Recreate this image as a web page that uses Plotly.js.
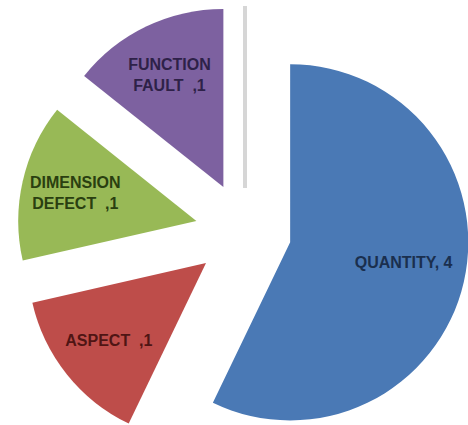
<!DOCTYPE html>
<html>
<head>
<meta charset="utf-8">
<script src="https://cdn.plot.ly/plotly-3.0.1.min.js"></script>
<style>
  html, body { margin: 0; padding: 0; background: #ffffff; overflow: hidden; width: 468px; height: 425px; }
  #chart { position: absolute; left: 0; top: 0; width: 480px; height: 470px; }
</style>
</head>
<body>
<div id="chart"></div>
<script>
// Data
var categories = ["QUANTITY", "ASPECT", "DIMENSION<br>DEFECT", "FUNCTION<br>FAULT"];
var values = [4, 1, 1, 1];
var labelTemplates = [
  "\u00a0\u00a0\u00a0\u00a0\u00a0\u00a0\u00a0\u00a0\u00a0\u00a0\u00a0\u00a0%{label}, %{value}",
  "%{label}\u00a0\u00a0,%{value}",
  "%{label}\u00a0\u00a0,%{value}",
  "%{label}\u00a0\u00a0,%{value}"
];

var sliceColors = ["#4a79b5", "#be4d4a", "#98b956", "#7d61a0"];
var textColors = ["#1a2f4e", "#4f1514", "#2a3f10", "#2e2148"];
var pulls = [0.26, 0.28, 0.28, 0.28];

var trace = {
  type: "pie",
  labels: categories,
  values: values,
  sort: false,
  direction: "clockwise",
  rotation: 0,
  pull: pulls,
  marker: { colors: sliceColors, line: { width: 0 } },
  texttemplate: labelTemplates,
  textposition: "inside",
  insidetextorientation: "horizontal",
  textfont: { family: "Liberation Sans, Arial, sans-serif", size: 16, weight: "bold", color: textColors },
  hoverinfo: "label+value",
  showlegend: false
};

var layout = {
  width: 480,
  height: 470,
  margin: { l: 17, r: 7, t: 4, b: 10, pad: 0 },
  paper_bgcolor: "#ffffff",
  plot_bgcolor: "#ffffff",
  showlegend: false,
  shapes: [{
    type: "line",
    xref: "paper", yref: "paper",
    x0: 0.5, x1: 0.5, y0: 0.5965, y1: 0.9956,
    line: { color: "#d6d6d6", width: 4 }
  }]
};

Plotly.newPlot("chart", [trace], layout, { displayModeBar: false, staticPlot: true });
</script>
</body>
</html>
